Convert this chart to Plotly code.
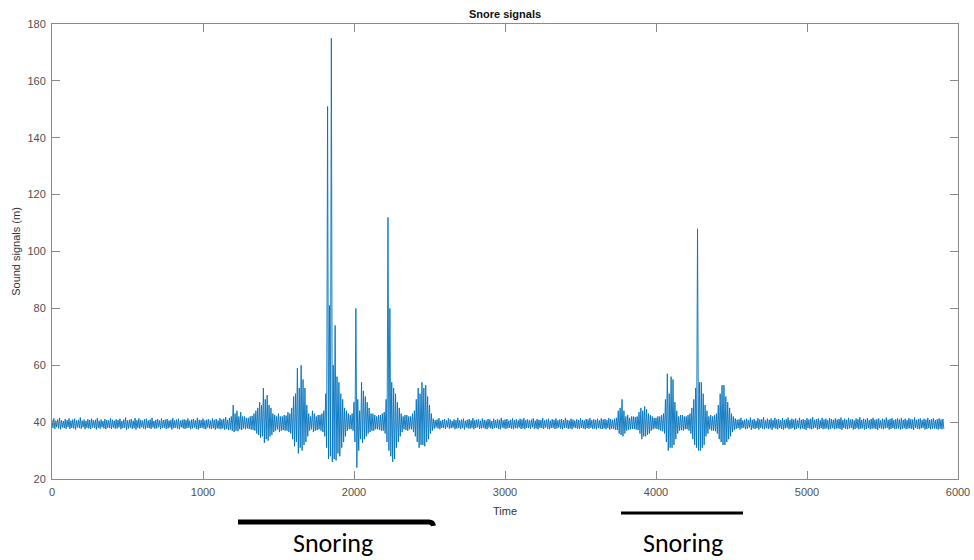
import plotly.graph_objects as go

# ---- data: signal envelope per 12.5-unit time bin ----
BIN = 12.5  # time units per bin

quiet1_hi = [40.8, 41.3, 40.5, 40.9, 41.5, 40.6, 40.4, 41.1, 40.7, 41.3,
             40.5, 40.9, 41.2, 40.6, 40.8, 41.6, 40.5, 40.9, 40.4, 41.0,
             40.7, 41.2, 40.6, 40.8, 41.4, 40.5, 40.9, 40.4, 41.1, 40.7,
             40.6, 41.3, 40.8, 40.5, 41.0, 40.7, 41.2, 40.4, 40.9, 41.6,
             40.6, 40.8, 41.1, 40.5, 41.4, 40.7, 41.3, 40.8, 40.5, 41.0,
             41.2, 40.6, 40.9, 41.5, 40.4, 40.8, 41.0, 40.6, 41.3, 40.7,
             40.9, 41.1, 40.5, 40.8, 41.4, 40.6, 40.9, 41.2, 40.5, 40.8,
             41.0, 40.7, 41.3, 40.5, 40.9, 41.1, 40.6, 41.5, 40.8, 40.7,
             41.2, 40.6, 40.9, 41.0, 40.5, 41.3, 40.8, 41.1, 40.6, 41.4,
             40.9, 41.2, 41.8, 40.8, 41.5, 42.0]
quiet1_lo = [38.0, 37.6, 38.2, 37.8, 37.5, 38.1, 37.9, 37.7, 38.3, 37.6,
             38.0, 37.8, 37.4, 38.1, 37.9, 37.7, 38.2, 37.5, 38.0, 37.8,
             37.6, 38.1, 37.9, 37.4, 38.0, 37.7, 38.2, 37.8, 37.5, 38.0,
             37.9, 37.6, 38.1, 37.7, 37.8, 38.2, 37.5, 37.9, 38.0, 37.3,
             37.8, 38.1, 37.6, 37.9, 37.4, 38.0, 37.7, 38.2, 37.8, 37.5,
             38.0, 37.9, 37.6, 38.1, 37.7, 37.8, 38.2, 37.5, 37.9, 38.0,
             37.6, 37.8, 38.1, 37.4, 37.9, 38.0, 37.7, 37.5, 38.2, 37.8,
             37.6, 37.9, 38.0, 37.5, 37.8, 38.1, 37.6, 37.4, 37.9, 38.0,
             37.7, 37.5, 38.1, 37.8, 37.6, 37.9, 37.4, 37.8, 37.7, 37.5,
             37.8, 37.3, 37.6, 37.2, 37.4, 37.0]

# first snoring episode, t = 1200 .. 2512.5
snore1_hi = [46, 43, 44, 42, 43.5, 42, 42, 41.5, 41.5, 42,
             42.2, 43, 44, 45, 47, 46, 52, 48, 49.5, 46,
             45, 43, 42.5, 42, 43, 42, 42, 42.5, 42.3, 43.5,
             43, 45, 49, 50, 59, 52, 60, 55, 52, 46,
             43, 42, 44, 43, 42, 42.5, 42.5, 43, 44, 50,
             151, 81, 175, 60, 74, 56, 54, 50, 48, 45,
             44, 43, 42.5, 43, 47, 80, 48, 44, 54, 51,
             49, 47, 45, 43, 43, 42.5, 42, 42.5, 42.5, 43,
             43.5, 48, 112, 80, 54, 52, 50, 47, 45, 43,
             42, 42.5, 42.5, 42, 42, 43, 44, 48, 52, 50,
             54, 52, 53, 49, 46, 43]
snore1_lo = [36.5, 37, 36.8, 37.5, 37.2, 37.8, 37.5, 37.8, 37.6, 37.4,
             37.3, 37, 36, 35.5, 34.5, 35, 32.7, 34, 33.5, 35,
             35.5, 36.5, 37, 37.5, 36.5, 37, 37.2, 37, 37, 36.5,
             36, 34, 31.5, 33, 29, 31, 30, 32, 33, 35,
             37, 37.5, 36.5, 37, 37.2, 37.5, 37, 36.5, 35, 31,
             27, 28, 26, 27, 26.5, 29, 28, 31, 33, 35,
             37, 37.5, 37.5, 37, 33, 24, 30, 34, 32.7, 34,
             35, 36, 36.5, 37, 37, 37.5, 37.5, 37.3, 37, 37,
             36, 33, 30, 28, 26, 27, 31, 33, 35, 36.5,
             37.5, 37.2, 37, 37.5, 37.5, 36.5, 35, 33, 31, 32,
             32, 31.5, 33, 34, 36, 37]

quiet2_hi = [41.2, 40.7, 40.9, 41.4, 40.5, 40.8, 41.1, 40.6, 41.3, 40.9,
             40.4, 41.0, 40.7, 41.5, 40.6, 40.9, 41.2, 40.5, 40.8, 41.1,
             40.6, 41.4, 40.7, 40.9, 41.0, 40.5, 41.3, 40.8, 40.6, 41.1,
             40.9, 40.4, 41.2, 40.7, 41.0, 40.8, 41.5, 40.6, 40.9, 41.1,
             40.5, 40.8, 41.3, 40.7, 41.0, 40.6, 41.2, 40.9, 41.4, 40.7,
             41.0, 40.6, 40.9, 41.3, 40.5, 41.1, 40.8, 40.7, 41.4, 40.6,
             40.9, 41.2, 40.5, 41.0, 40.8, 41.3, 40.6, 40.9, 41.1, 40.7,
             41.5, 40.8, 40.6, 41.2, 40.9, 40.5, 41.0, 40.7, 41.3, 40.8,
             40.6, 41.1, 40.9, 41.4, 40.7, 41.0, 40.8, 41.2, 40.6, 41.3,
             40.9, 41.1, 40.7, 41.4, 41.0, 40.8, 41.2, 41.5]
quiet2_lo = [37.7, 38.1, 37.8, 37.5, 38.0, 37.9, 37.6, 38.2, 37.7, 37.9,
             38.1, 37.5, 37.8, 38.0, 37.6, 37.9, 37.4, 38.1, 37.8, 37.7,
             38.0, 37.5, 37.9, 38.2, 37.6, 37.8, 38.0, 37.7, 37.5, 38.1,
             37.8, 37.6, 37.9, 38.0, 37.7, 37.5, 38.1, 37.8, 37.6, 37.9,
             38.0, 37.7, 37.5, 37.9, 37.8, 38.1, 37.6, 37.8, 37.5, 38.0,
             37.9, 37.6, 38.2, 37.7, 37.8, 37.5, 38.0, 37.9, 37.6, 38.1,
             37.7, 37.5, 37.9, 38.0, 37.6, 37.8, 38.1, 37.7, 37.5, 37.9,
             38.0, 37.6, 37.8, 37.5, 38.1, 37.9, 37.7, 37.6, 38.0, 37.8,
             37.5, 37.9, 37.7, 38.0, 37.6, 37.8, 37.5, 37.9, 37.7, 37.6,
             37.8, 37.5, 37.9, 37.4, 37.7, 37.6, 37.3, 37.2]

# second snoring episode, t = 3750 .. 4512.5
snore2_hi = [44, 45, 48, 44, 42, 42.5, 41.5, 42, 42, 41.8,
             42, 43.5, 45, 44, 45.5, 44.5, 43, 42.5, 42, 41.5,
             41.5, 42, 42, 42.5, 43, 48, 57, 50, 56, 55,
             47, 44, 42, 42.5, 42.5, 42, 42, 42.5, 43, 45,
             48, 52, 108, 54, 54, 50, 46, 44, 42, 42.5,
             42, 42.5, 43, 46, 50, 53, 53, 49, 47, 45,
             43, 42]
snore2_lo = [36, 35.5, 35, 36, 37, 37.3, 37.5, 37.6, 37.6, 37.4,
             37.2, 36, 34, 35, 35, 35.5, 36, 37, 37.5, 37.8,
             37.6, 37.4, 37, 36.8, 36, 33, 30, 31, 31, 32,
             34, 36, 37, 37.2, 37, 37.5, 37.5, 37, 36, 34,
             32, 31, 30, 30, 31, 32, 35, 36, 37.5, 37,
             37, 36.8, 36, 34, 33, 32, 32, 33, 34, 35,
             36.5, 37.2]

quiet3_hi = [41.3, 40.8, 41.0, 41.5, 40.6, 40.9, 41.2, 40.7, 41.6, 40.8,
             41.1, 40.5, 41.4, 40.9, 41.0, 41.7, 40.6, 41.2, 40.8, 41.3,
             40.7, 41.5, 40.9, 41.1, 40.6, 41.4, 40.8, 41.0, 41.6, 40.7,
             41.2, 40.9, 41.3, 40.6, 41.5, 40.8, 41.1, 40.7, 41.4, 40.9,
             41.2, 41.7, 40.8, 41.0, 41.3, 40.6, 41.5, 40.9, 41.2, 40.7,
             41.4, 41.0, 40.8, 41.3, 40.9, 41.1, 41.6, 40.7, 41.2, 40.8,
             41.5, 40.9, 41.1, 40.6, 41.3, 41.0, 41.7, 40.8, 41.2, 40.9,
             41.4, 40.7, 41.1, 41.5, 40.8, 41.0, 41.3, 40.6, 41.2, 40.9,
             41.6, 40.8, 41.1, 41.4, 40.7, 41.0, 41.3, 40.9, 41.5, 40.8,
             41.2, 40.7, 41.4, 41.0, 40.9, 41.6, 40.8, 41.1, 41.3, 40.7,
             41.2, 40.9, 41.5, 40.8, 41.1, 41.4, 40.7, 41.0, 41.3, 40.9,
             41.1]
quiet3_lo = [37.6, 37.9, 37.4, 37.8, 38.0, 37.5, 37.7, 38.1, 37.3, 37.8,
             37.6, 37.9, 37.4, 38.0, 37.7, 37.5, 37.9, 37.6, 37.8, 37.3,
             38.0, 37.7, 37.5, 37.9, 37.6, 37.4, 37.8, 38.0, 37.5, 37.7,
             37.9, 37.4, 37.6, 38.0, 37.5, 37.8, 37.6, 37.3, 37.9, 37.7,
             37.5, 37.8, 38.0, 37.4, 37.6, 37.9, 37.5, 37.7, 37.8, 37.4,
             37.6, 37.9, 37.5, 37.7, 37.8, 37.6, 37.3, 37.9, 37.7, 37.5,
             37.8, 38.0, 37.4, 37.6, 37.9, 37.5, 37.7, 37.8, 37.4, 37.6,
             37.9, 37.5, 37.7, 37.8, 37.6, 37.3, 37.9, 37.7, 37.5, 37.8,
             38.0, 37.4, 37.6, 37.9, 37.5, 37.7, 37.8, 37.4, 37.6, 37.9,
             37.5, 37.7, 37.8, 37.6, 37.3, 37.9, 37.7, 37.5, 37.8, 38.0,
             37.4, 37.6, 37.9, 37.5, 37.7, 37.8, 37.6, 37.4, 37.7, 37.5,
             37.6]

x_ticks = [0, 1000, 2000, 3000, 4000, 5000, 6000]
y_ticks = [20, 40, 60, 80, 100, 120, 140, 160, 180]
title_text = "Snore signals"
x_title = "Time"
y_title = "Sound signals (m)"
note_text = "Snoring"

hi = quiet1_hi + snore1_hi + quiet2_hi + snore2_hi + quiet3_hi
lo = quiet1_lo + snore1_lo + quiet2_lo + snore2_lo + quiet3_lo

xs, ys = [], []
for i, (h, l) in enumerate(zip(hi, lo)):
    xs += [i * BIN, i * BIN + BIN / 2]
    ys += [h, l]

fig = go.Figure()
fig.add_trace(go.Scatter(x=xs, y=ys, mode="lines",
                         line=dict(color="#0072BD", width=0.9, simplify=False),
                         hoverinfo="skip", showlegend=False))

FONT = "Liberation Sans, Arial, sans-serif"
axis_common = dict(showline=True, linecolor="#8a8a8a", linewidth=1, mirror="ticks",
                   ticks="inside", ticklen=8, tickcolor="#8a8a8a", tickwidth=1,
                   showgrid=False, zeroline=False, automargin=False,
                   tickfont=dict(family=FONT, size=11, color="#505050"))

fig.update_xaxes(range=[0, 6000], tickvals=x_ticks, ticktext=[str(v) for v in x_ticks],
                 ticklabelstandoff=3,
                 title=dict(text=x_title, standoff=10,
                            font=dict(family=FONT, size=11, color="#333")),
                 **axis_common)
fig.update_yaxes(range=[20, 180], tickvals=y_ticks, ticktext=[str(v) for v in y_ticks],
                 ticklabelstandoff=3,
                 title=dict(text=y_title, standoff=4,
                            font=dict(family=FONT, size=11, color="#333")),
                 **axis_common)

fig.update_layout(
    width=974, height=560,
    margin=dict(l=52, r=16, t=24, b=81),
    paper_bgcolor="white", plot_bgcolor="white",
    title=dict(text="<b>" + title_text + "</b>", x=0.5, xref="paper", y=1 - 14 / 560,
               yref="container", yanchor="middle",
               font=dict(family=FONT, size=11, color="#111")),
    shapes=[
        dict(type="path", xref="paper", yref="paper",
             path="M 0.2053,-0.0945 L 0.4160,-0.0945 Q 0.4205,-0.0945 0.4210,-0.1030",
             line=dict(color="black", width=5)),
        dict(type="line", xref="paper", yref="paper", x0=0.628, x1=0.7627,
             y0=-0.0747, y1=-0.0747, line=dict(color="black", width=3)),
    ],
    annotations=[
        dict(text=note_text, xref="paper", yref="paper", x=0.310, y=-0.1407,
             showarrow=False, xanchor="center", yanchor="middle",
             font=dict(family="Carlito, Lato, sans-serif", size=26, color="black")),
        dict(text=note_text, xref="paper", yref="paper", x=0.6965, y=-0.1407,
             showarrow=False, xanchor="center", yanchor="middle",
             font=dict(family="Carlito, Lato, sans-serif", size=26, color="black")),
    ],
)

# remove the page's default 8 px body margin so the figure fills the window
fig.write_html("out.html",
               config={"displayModeBar": False, "staticPlot": True},
               post_script="document.body.style.margin='0';document.body.style.overflow='hidden';")
